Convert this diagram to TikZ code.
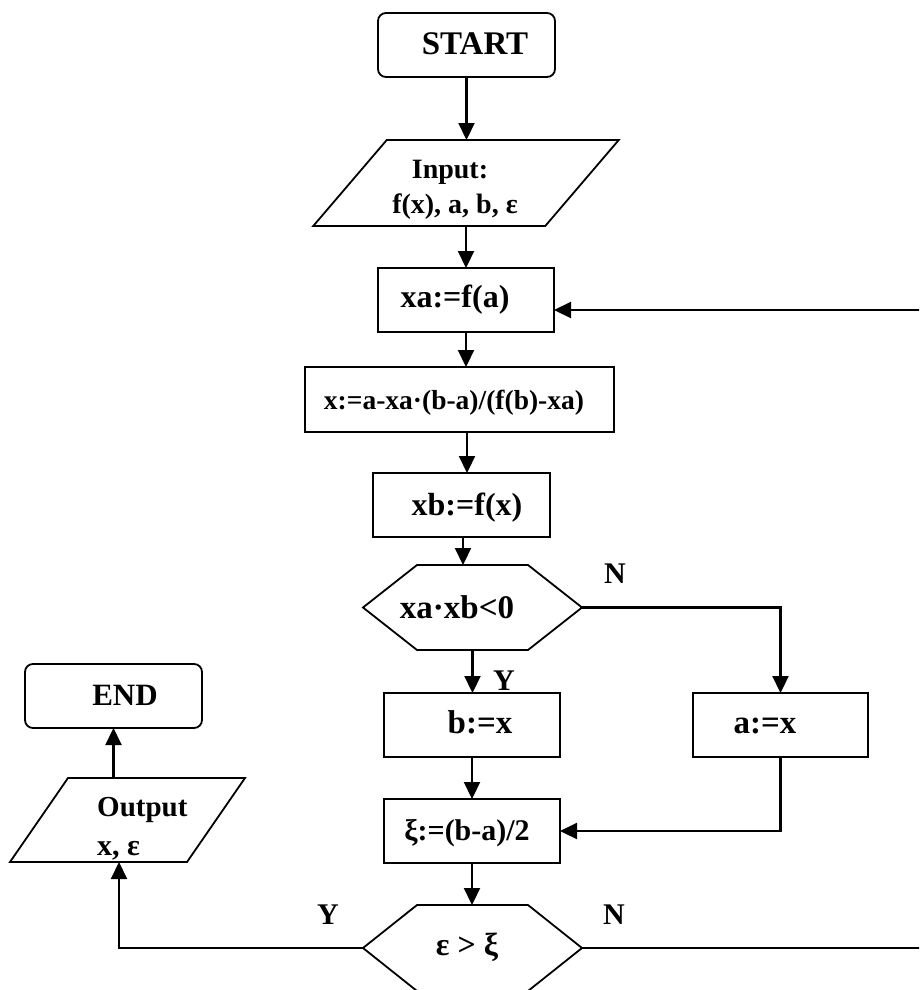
\documentclass[tikz,border=0pt]{standalone}
\usepackage{fontspec}
\setmainfont{Liberation Serif}
\usetikzlibrary{arrows.meta,calc}
\newcommand\txtsz[1]{\fontsize{#1}{#1}\selectfont}
\begin{document}
\begin{tikzpicture}[x=1pt,y=-1pt,
  box/.style={draw, line width=1.8pt, inner sep=0pt, outer sep=0pt, minimum width=#1},
  box/.default=176pt,
  term/.style={box, rounded corners=8pt},
  shapebox/.style={inner sep=0pt, outer sep=0pt},
  outline/.style={line width=1.8pt, line join=miter},
  arr/.style={line width=2.2pt, -{Triangle[length=17pt,width=16pt]}},
  tx/.style={inner sep=0pt, anchor=base, font=\bfseries\txtsz{#1}},
  txl/.style={inner sep=0pt, anchor=base west, font=\bfseries\txtsz{#1}},
]
\clip (0,0) rectangle (919,990);
\fill[white] (0,0) rectangle (919,990);

% process and terminal boxes
\node[term, minimum width=177pt, minimum height=64pt] (start) at (466.5,45) {};
\node[box, minimum height=64pt] (xa) at (466,300) {};
\node[box=309pt, minimum height=65pt] (xc) at (459.5,399.5) {};
\node[box=177pt, minimum height=64pt] (xb) at (461.5,505) {};
\node[box, minimum height=64pt] (bx) at (472,725) {};
\node[box=175pt, minimum height=64pt] (ax) at (780.5,725) {};
\node[box, minimum height=64pt] (xi) at (472,831) {};
\node[term, minimum width=177pt, minimum height=64pt] (end) at (113.5,696) {};

% input / output parallelograms
\node[shapebox, minimum width=232pt, minimum height=86pt] (inp) at (466,183) {};
\draw[outline] ($(inp.north west)+(36.75,0)$) -- ($(inp.north east)+(36.75,0)$)
  -- ($(inp.south east)+(-36.75,0)$) -- ($(inp.south west)+(-36.75,0)$) -- cycle;
\node[shapebox, minimum width=177pt, minimum height=84pt] (out) at (127.5,820) {};
\draw[outline] ($(out.north west)+(29,0)$) -- ($(out.north east)+(29,0)$)
  -- ($(out.south east)+(-29,0)$) -- ($(out.south west)+(-29,0)$) -- cycle;

% decision hexagons
\node[shapebox, minimum width=219pt, minimum height=85pt] (hx1) at (472.5,607.5) {};
\draw[outline] (hx1.west) -- ($(hx1.north west)+(54,0)$) -- ($(hx1.north east)+(-54,0)$)
  -- (hx1.east) -- ($(hx1.south east)+(-54,0)$) -- ($(hx1.south west)+(54,0)$) -- cycle;
\node[shapebox, minimum width=219pt, minimum height=86pt] (hx2) at (472.5,948) {};
\draw[outline] (hx2.west) -- ($(hx2.north west)+(54,0)$) -- ($(hx2.north east)+(-54,0)$)
  -- (hx2.east) -- ($(hx2.south east)+(-54,0)$) -- ($(hx2.south west)+(54,0)$) -- cycle;

% texts
\node[tx=33] (t-start) at (475,55) {START};
\node[tx=28] (t-in1) at (450,178) {Input:};
\node[tx=28] (t-in2) at (455,213) {f(x), a, b, ε};
\node[tx=32] (t-xa) at (455,307) {xa:=f(a)};
\node[tx=27.5] (t-xc) at (454,409) {x:=a-xa·(b-a)/(f(b)-xa)};
\node[tx=32] (t-xb) at (467,515) {xb:=f(x)};
\node[tx=33] (t-hx1) at (457,618) {xa·xb<0};
\node[tx=30] (t-n1) at (615,583) {N};
\node[tx=30] (t-y1) at (504,690) {Y};
\node[tx=33] (t-bx) at (480,733) {b:=x};
\node[tx=33] (t-ax) at (765,733) {a:=x};
\node[tx=30] (t-xi) at (467,840) {ξ:=(b-a)/2};
\node[tx=32] (t-hx2) at (467,955) {ε > ξ};
\node[tx=30] (t-y2) at (328,924) {Y};
\node[tx=30] (t-n2) at (614,924) {N};
\node[tx=31] (t-end) at (125,705) {END};
\node[txl=29] (t-out1) at (97,816) {Output};
\node[txl=30] (t-out2) at (97,855) {x, ε};

% connectors
\coordinate (rb) at (940,948);
\coordinate (rt) at (940,310);
\draw[arr] (start.south) -- (start.south |- inp.north);
\draw[arr] (inp.south) -- (inp.south |- xa.north);
\draw[arr] (xa.south) -- (xa.south |- xc.north);
\draw[arr] ([xshift=7.5pt]xc.south) -- ([xshift=5.5pt]xb.north);
\draw[arr] ([xshift=1.5pt]xb.south) -- ([xshift=-9.5pt]hx1.north);
\draw[arr] (hx1.south) -- (hx1.south |- bx.north);
\draw[arr] (hx1.east) -| (ax.north);
\draw[arr] (bx.south) -- (bx.south |- xi.north);
\draw[arr] (ax.south) |- (xi.east);
\draw[arr] (xi.south) -- (xi.south |- hx2.north);
\draw[arr] (hx2.west) -| ([xshift=-8.5pt]out.south);
\draw[arr] (end.south |- out.north) -- (end.south);
\draw[arr] (hx2.east) -- (rb) -- (rt) -- (rt -| xa.east);
\end{tikzpicture}
\end{document}
